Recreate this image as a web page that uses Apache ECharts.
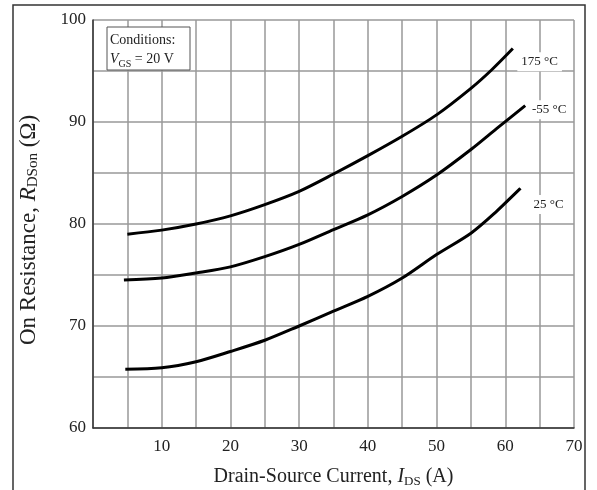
<!DOCTYPE html>
<html>
<head>
<meta charset="utf-8">
<script src="https://cdn.jsdelivr.net/npm/echarts@6/dist/echarts.min.js"></script>
<style>
  html, body { margin: 0; padding: 0; background: #fff; }
  #chart { width: 597px; height: 490px; }
</style>
</head>
<body>
<div id="chart"></div>
<script>
// values
const x175 = [5, 10, 15, 20, 25, 30, 35, 40, 45, 50, 55, 58, 61.1]
const r175 = [79.0, 79.4, 80.0, 80.8, 81.9, 83.2, 84.9, 86.7, 88.6, 90.7, 93.3, 95.1, 97.2]

const xM55 = [4.5, 10, 15, 20, 25, 30, 35, 40, 45, 50, 55, 59, 62.9]
const rM55 = [74.5, 74.7, 75.2, 75.8, 76.8, 78.0, 79.45, 80.9, 82.7, 84.8, 87.3, 89.5, 91.6]

const x25 = [4.7, 10, 15, 20, 25, 30, 35, 40, 45, 50, 55, 58.5, 62.2]
const r25 = [65.75, 65.9, 66.5, 67.5, 68.6, 70.0, 71.45, 72.9, 74.7, 77.0, 79.1, 81.1, 83.5]

const curveNames = ['175 °C', '-55 °C', '25 °C']
const labelCoords = [[65, 95.9], [66.4, 91.2], [66.3, 81.9]]

const xTickLabels = ['10', '20', '30', '40', '50', '60', '70']
const yTickLabels = ['60', '70', '80', '90', '100']

const font = '"Liberation Serif", "DejaVu Serif", serif'

const pairs = (xs, ys) => xs.map((x, i) => [x, ys[i]])

const makeSeries = (name, data, coord) => ({
  name,
  type: 'line',
  data,
  smooth: 0.3,
  showSymbol: false,
  lineStyle: { color: '#000', width: 3 },
  markPoint: {
    symbol: 'rect',
    symbolSize: 0,
    silent: true,
    label: {
      show: true,
      formatter: name,
      fontFamily: font,
      fontSize: 13,
      color: '#222',
      backgroundColor: '#fff',
      padding: [3, 4]
    },
    data: [{ coord }]
  },
  z: 3
})

const nameRich = size => ({
  i: { fontFamily: font, fontSize: size, fontStyle: 'italic', color: '#222' },
  sub: { fontFamily: font, fontSize: Math.round(size * 0.65), color: '#222', verticalAlign: 'bottom', padding: [Math.round(size * 0.45), 0, 0, 0] },
  n: { fontFamily: font, fontSize: size, color: '#222' }
})

const chart = echarts.init(document.getElementById('chart'))

chart.setOption({
  animation: false,
  backgroundColor: '#fff',
  grid: { left: 93, right: 23, top: 20, bottom: 62, outerBoundsMode: 'none' },
  xAxis: {
    type: 'value',
    min: 0,
    max: 70,
    interval: 5,
    axisLine: { show: true, onZero: false, lineStyle: { color: '#333', width: 1.5 } },
    axisTick: { show: false },
    axisLabel: {
      margin: 10,
      fontFamily: font,
      fontSize: 17,
      color: '#222',
      formatter: v => xTickLabels.includes(String(v)) ? String(v) : ''
    },
    splitLine: { show: true, lineStyle: { color: '#999', width: 1.5 } },
    name: 'Drain-Source Current, {i|I}{sub|DS}{n| (A)}',
    nameLocation: 'middle',
    nameGap: 38,
    nameTextStyle: { fontFamily: font, fontSize: 20, color: '#222', rich: nameRich(20) }
  },
  yAxis: {
    type: 'value',
    min: 60,
    max: 100,
    interval: 5,
    axisLine: { show: true, lineStyle: { color: '#333', width: 1.5 } },
    axisTick: { show: false },
    axisLabel: {
      margin: 7,
      fontFamily: font,
      fontSize: 17,
      color: '#222',
      formatter: v => yTickLabels.includes(String(v)) ? String(v) : ''
    },
    splitLine: { show: true, lineStyle: { color: '#999', width: 1.5 } },
    name: 'On Resistance, {i|R}{sub|DSon}{n| (Ω)}',
    nameLocation: 'middle',
    nameGap: 52,
    nameRotate: 90,
    nameTextStyle: { fontFamily: font, fontSize: 23, color: '#222', padding: [0, 12, 0, 0], rich: nameRich(23) }
  },
  graphic: [
    {
      type: 'rect',
      shape: { x: 13, y: 5, width: 572, height: 500 },
      style: { fill: 'none', stroke: '#333', lineWidth: 1.5 },
      silent: true
    },
    {
      type: 'rect',
      shape: { x: 107, y: 27, width: 83, height: 43 },
      style: { fill: '#fff', stroke: '#555', lineWidth: 1 },
      z: 10
    },
    {
      type: 'text',
      x: 110,
      y: 31,
      z: 11,
      style: {
        text: 'Conditions:\n{i|V}{sub|GS}{n| = 20 V}',
        fontFamily: font,
        fontSize: 14,
        lineHeight: 19,
        fill: '#222',
        rich: {
          i: { fontFamily: font, fontSize: 14, fontStyle: 'italic', fill: '#222' },
          sub: { fontFamily: font, fontSize: 10, fill: '#222', verticalAlign: 'bottom', padding: [6, 0, 0, 0] },
          n: { fontFamily: font, fontSize: 14, fill: '#222' }
        }
      }
    }
  ],
  series: [
    makeSeries(curveNames[0], pairs(x175, r175), labelCoords[0]),
    makeSeries(curveNames[1], pairs(xM55, rM55), labelCoords[1]),
    makeSeries(curveNames[2], pairs(x25, r25), labelCoords[2])
  ]
})
</script>
</body>
</html>
